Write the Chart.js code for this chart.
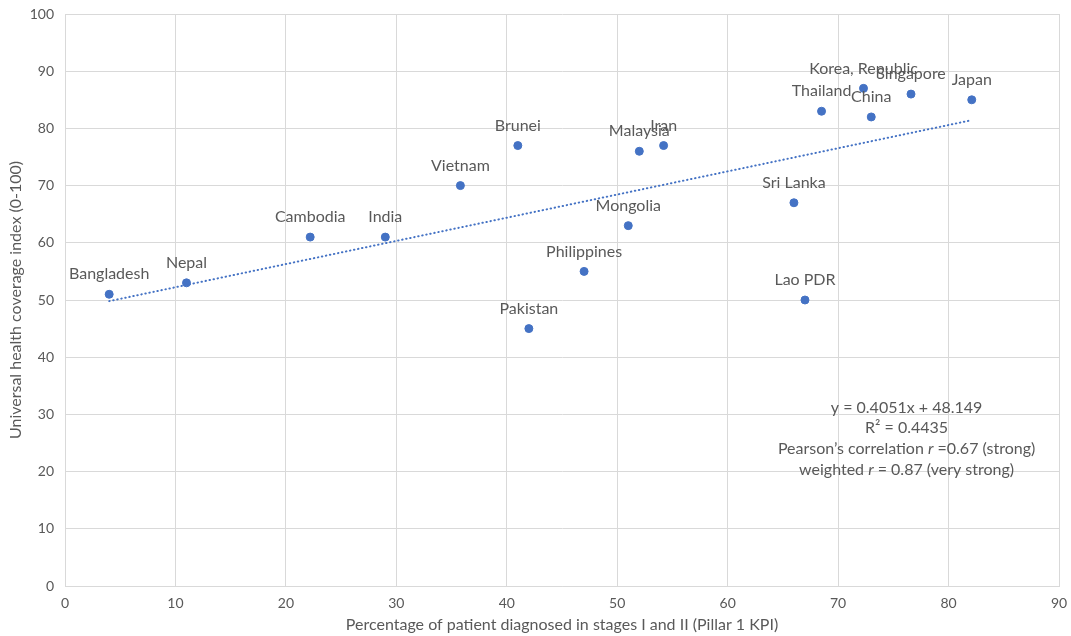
<!DOCTYPE html>
<html>
<head>
<meta charset="utf-8">
<script src="https://cdn.jsdelivr.net/npm/chart.js@4"></script>
<style>
  html, body { margin: 0; padding: 0; background: #fff; }
  #chart { display: block; }
</style>
</head>
<body>
<canvas id="chart" width="1071" height="636"></canvas>
<script>
// values
const countries = ["Bangladesh", "Nepal", "Cambodia", "India", "Vietnam", "Brunei", "Pakistan", "Philippines",
  "Mongolia", "Malaysia", "Iran", "Sri Lanka", "Lao PDR", "Thailand", "Korea, Republic", "China", "Singapore", "Japan"];
const stageIandII = [4, 11, 22.2, 29, 35.8, 41, 42, 47, 51, 52, 54.2, 66, 67, 68.5, 72.3, 73, 76.6, 82.1];
const uhcIndex = [51, 53, 61, 61, 70, 77, 45, 55, 63, 76, 77, 67, 50, 83, 87, 82, 86, 85];

// linear trendline ends (Excel draws it from min x to max x)
const trendX = [4, 82];
const trendY = [49.8, 81.4];

const statLines = [
  [["y = 0.4051x + 48.149", false]],
  [["R² = 0.4435", false]],
  [["Pearson’s correlation ", false], ["r", true], [" =0.67 (strong)", false]],
  [["weighted ", false], ["r", true], [" = 0.87 (very strong)", false]],
];

const FONT = "Lato, 'Open Sans', sans-serif";
const GREY = "#595959";
const BLUE = "#4472C4";

const pointLabels = {
  id: "pointLabels",
  afterDatasetsDraw(chart) {
    const ctx = chart.ctx;
    const meta = chart.getDatasetMeta(0);
    ctx.save();
    ctx.font = "16px " + FONT;
    ctx.fillStyle = GREY;
    ctx.textAlign = "center";
    ctx.textBaseline = "middle";
    meta.data.forEach((el, i) => {
      ctx.fillText(countries[i], el.x, el.y - 20);
    });
    ctx.restore();
  }
};

const statsBox = {
  id: "statsBox",
  afterDraw(chart) {
    const ctx = chart.ctx;
    const cx = chart.scales.x.getPixelForValue(76.2);
    let y = chart.scales.y.getPixelForValue(31.2);
    ctx.save();
    ctx.fillStyle = GREY;
    ctx.textBaseline = "middle";
    ctx.textAlign = "left";
    for (const line of statLines) {
      let total = 0;
      for (const [txt, it] of line) {
        ctx.font = (it ? "italic " : "") + "16px " + FONT;
        total += ctx.measureText(txt).width;
      }
      let x = cx - total / 2;
      for (const [txt, it] of line) {
        ctx.font = (it ? "italic " : "") + "16px " + FONT;
        ctx.fillText(txt, x, y);
        x += ctx.measureText(txt).width;
      }
      y += 20.7;
    }
    ctx.restore();
  }
};

new Chart(document.getElementById("chart"), {
  type: "scatter",
  data: {
    datasets: [
      {
        label: "Countries",
        data: stageIandII.map((v, i) => ({ x: v, y: uhcIndex[i] })),
        backgroundColor: BLUE,
        borderColor: BLUE,
        pointRadius: 4,
        pointHoverRadius: 4,
      },
      {
        type: "line",
        label: "Trend",
        data: trendX.map((v, i) => ({ x: v, y: trendY[i] })),
        borderColor: BLUE,
        borderWidth: 2,
        borderDash: [0.5, 3.6],
        borderCapStyle: "round",
        pointRadius: 0,
        fill: false,
      }
    ]
  },
  options: {
    responsive: false,
    animation: false,
    layout: { padding: { top: 14, right: 12, left: 0, bottom: 0 } },
    plugins: { legend: { display: false }, tooltip: { enabled: false } },
    scales: {
      x: {
        type: "linear",
        min: 0,
        max: 90,
        afterFit: (s) => { s.height = 50; s.paddingLeft = 0; s.paddingRight = 0; },
        ticks: { stepSize: 10, color: GREY, font: { family: FONT, size: 14 }, padding: 9 },
        grid: { color: "#d9d9d9", drawTicks: false },
        border: { color: "#d9d9d9" },
        title: {
          display: true,
          text: "Percentage of patient diagnosed in stages I and II (Pillar 1 KPI)",
          color: GREY,
          font: { family: FONT, size: 16 },
          padding: { top: 0, bottom: 2 }
        }
      },
      y: {
        min: 0,
        max: 100,
        afterFit: (s) => { s.width = 65; s.paddingTop = 0; s.paddingBottom = 0; },
        ticks: { stepSize: 10, color: GREY, font: { family: FONT, size: 14 }, padding: 11 },
        grid: { color: "#d9d9d9", drawTicks: false },
        border: { color: "#d9d9d9" },
        title: {
          display: true,
          text: "Universal health coverage index (0-100)",
          color: GREY,
          font: { family: FONT, size: 16 },
          padding: { top: 6, bottom: 0 }
        }
      }
    }
  },
  plugins: [pointLabels, statsBox]
});
</script>
</body>
</html>
